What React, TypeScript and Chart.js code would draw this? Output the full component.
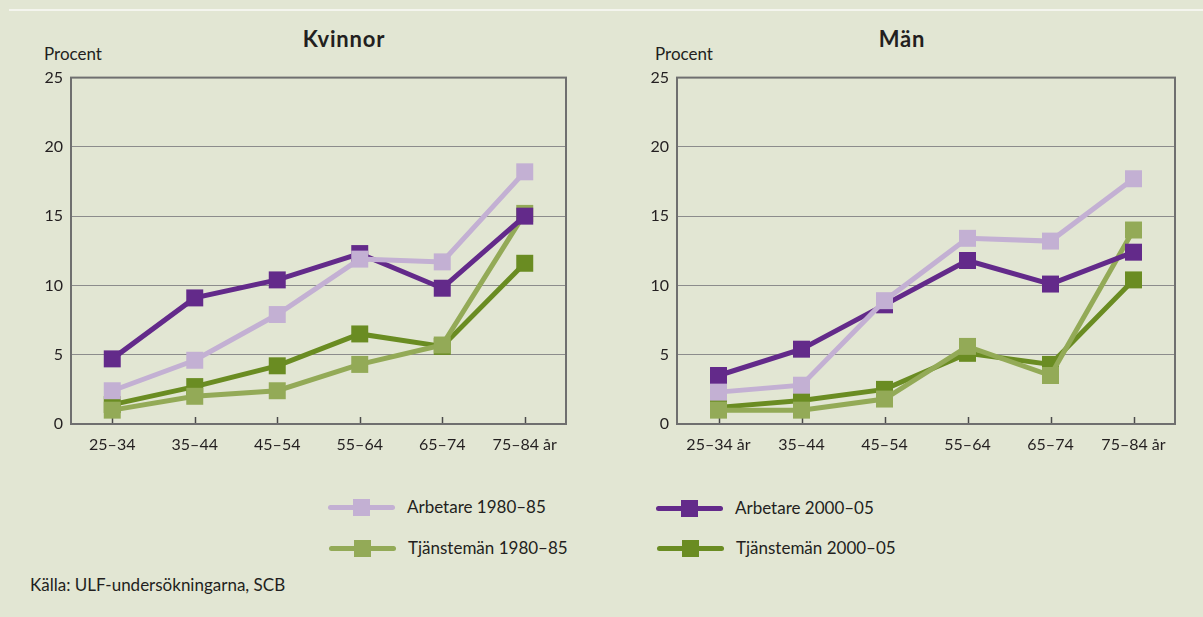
import React, { useEffect, useRef } from "react";
import { Chart, registerables } from "chart.js";

Chart.register(...registerables);

const categoriesKvinnor = ["25–34", "35–44", "45–54", "55–64", "65–74", "75–84 år"];
const categoriesMan = ["25–34 år", "35–44", "45–54", "55–64", "65–74", "75–84 år"];
const yTicks = [0, 5, 10, 15, 20, 25];

const kvinnorArbetare1980 = [2.4, 4.6, 7.9, 11.9, 11.7, 18.2];
const kvinnorArbetare2000 = [4.7, 9.1, 10.4, 12.3, 9.8, 15.0];
const kvinnorTjanst1980 = [1.0, 2.0, 2.4, 4.3, 5.7, 15.2];
const kvinnorTjanst2000 = [1.4, 2.7, 4.2, 6.5, 5.6, 11.6];

const manArbetare1980 = [2.3, 2.8, 8.9, 13.4, 13.2, 17.7];
const manArbetare2000 = [3.5, 5.4, 8.6, 11.8, 10.1, 12.4];
const manTjanst1980 = [1.0, 1.0, 1.8, 5.6, 3.5, 14.0];
const manTjanst2000 = [1.2, 1.7, 2.5, 5.1, 4.3, 10.4];

const seriesNames = ["Arbetare 1980–85", "Arbetare 2000–05", "Tjänstemän 1980–85", "Tjänstemän 2000–05"];
const seriesColors = ["#c3b0d3", "#632a8a", "#93aa57", "#6a8c22"];

const BG = "#e2e6d3";
const TEXT = "#231f20";
const FONT = "Lato, 'Open Sans', sans-serif";

const framePlugin = {
  id: "frame",
  beforeDatasetsDraw(chart: any) {
    const { ctx, chartArea, scales } = chart;
    const { left, right, top, bottom } = chartArea;
    const x = scales.x;
    ctx.save();
    ctx.strokeStyle = "#4a4a4a";
    ctx.lineWidth = 1.5;
    const n = chart.data.labels.length;
    for (let i = 0; i < n; i++) {
      const px = Math.round(x.getPixelForValue(i)) + 0.5;
      ctx.beginPath();
      ctx.moveTo(px, bottom);
      ctx.lineTo(px, bottom - 7);
      ctx.stroke();
    }
    ctx.strokeStyle = "#6f6f6f";
    ctx.lineWidth = 2;
    ctx.strokeRect(left, top, right - left, bottom - top);
    ctx.restore();
  },
};

type PanelProps = {
  labels: string[];
  series: number[][];
  left: number;
  width: number;
  axisWidth: number;
  padRight: number;
};

function Panel({ labels, series, left, width, axisWidth, padRight }: PanelProps) {
  const ref = useRef<HTMLCanvasElement>(null);
  useEffect(() => {
    if (!ref.current) return;
    const drawOrder = [0, 1, 2, 3];
    const chart = new Chart(ref.current, {
      type: "line",
      data: {
        labels,
        datasets: drawOrder.map((i) => ({
          label: seriesNames[i],
          data: series[i],
          borderColor: seriesColors[i],
          backgroundColor: seriesColors[i],
          borderWidth: 5,
          pointStyle: "rect",
          pointRadius: 12,
          pointHoverRadius: 12,
          pointBorderWidth: 0,
          pointBackgroundColor: seriesColors[i],
          tension: 0,
          fill: false,
          clip: false,
          order: i,
        })),
      } as any,
      options: {
        animation: false,
        responsive: false,
        maintainAspectRatio: false,
        layout: { padding: { left: 0, right: padRight, top: 15, bottom: 0 } },
        plugins: { legend: { display: false }, tooltip: { enabled: false }, title: { display: false } },
        scales: {
          x: {
            type: "category",
            offset: true,
            grid: { display: false, drawTicks: false },
            border: { display: false },
            ticks: { color: TEXT, font: { family: FONT, size: 16 }, padding: 11, maxRotation: 0, autoSkip: false },
            afterFit: (s: any) => {
              s.height = 46;
            },
          },
          y: {
            min: 0,
            max: 25,
            afterBuildTicks: (s: any) => {
              s.ticks = yTicks.map((v) => ({ value: v }));
            },
            grid: { color: "#8c8c8c", lineWidth: 1, drawTicks: false },
            border: { display: false },
            ticks: { color: TEXT, font: { family: FONT, size: 16 }, padding: 8 },
            afterFit: (s: any) => {
              s.width = axisWidth;
            },
          },
        },
      } as any,
      plugins: [framePlugin],
    });
    return () => chart.destroy();
  }, []);
  return (
    <canvas
      ref={ref}
      width={width}
      height={410}
      style={{ position: "absolute", left, top: 60, width, height: 410 }}
    />
  );
}

function LegendItem({ x, cy, color, text }: { x: number; cy: number; color: string; text: string }) {
  return (
    <>
      <div
        style={{
          position: "absolute",
          left: x,
          top: cy - 2.5,
          width: 67,
          height: 5,
          borderRadius: 3,
          background: color,
        }}
      />
      <div
        style={{
          position: "absolute",
          left: x + 25,
          top: cy - 8.5,
          width: 17,
          height: 17,
          background: color,
        }}
      />
      <div
        style={{
          position: "absolute",
          left: x + 79,
          top: cy - 11,
          lineHeight: "22px",
          fontSize: 17,
          fontFamily: FONT,
          color: TEXT,
          whiteSpace: "nowrap",
        }}
      >
        {text}
      </div>
    </>
  );
}

const textStyle = (extra: any) => ({
  position: "absolute" as const,
  fontFamily: FONT,
  color: TEXT,
  whiteSpace: "nowrap" as const,
  ...extra,
});

export default function App() {
  return (
    <div
      style={{
        position: "absolute",
        left: 0,
        top: 0,
        width: 1203,
        height: 617,
        background: BG,
        overflow: "hidden",
      }}
    >
      <div style={{ position: "absolute", left: 9, top: 9, width: 1194, height: 2, background: "#f4f5ee" }} />
      <div style={textStyle({ left: 244, width: 200, textAlign: "center", top: 27, fontSize: 22, lineHeight: "24px", fontWeight: 700, letterSpacing: 0.8 })}>
        Kvinnor
      </div>
      <div style={textStyle({ left: 802, width: 200, textAlign: "center", top: 27, fontSize: 22, lineHeight: "24px", fontWeight: 700, letterSpacing: 0.8 })}>
        Män
      </div>
      <div style={textStyle({ left: 44, top: 45, fontSize: 17, lineHeight: "18px" })}>Procent</div>
      <div style={textStyle({ left: 655, top: 45, fontSize: 17, lineHeight: "18px" })}>Procent</div>

      <Panel
        labels={categoriesKvinnor}
        series={[kvinnorArbetare1980, kvinnorArbetare2000, kvinnorTjanst1980, kvinnorTjanst2000]}
        left={0}
        width={600}
        axisWidth={71}
        padRight={34}
      />
      <Panel
        labels={categoriesMan}
        series={[manArbetare1980, manArbetare2000, manTjanst1980, manTjanst2000]}
        left={600}
        width={603}
        axisWidth={77}
        padRight={28}
      />

      <LegendItem x={328} cy={507} color={seriesColors[0]} text={seriesNames[0]} />
      <LegendItem x={656} cy={508} color={seriesColors[1]} text={seriesNames[1]} />
      <LegendItem x={329} cy={548} color={seriesColors[2]} text={seriesNames[2]} />
      <LegendItem x={657} cy={548} color={seriesColors[3]} text={seriesNames[3]} />

      <div style={textStyle({ left: 30, top: 574, fontSize: 17, lineHeight: "22px" })}>
        Källa: ULF-undersökningarna, SCB
      </div>
    </div>
  );
}
